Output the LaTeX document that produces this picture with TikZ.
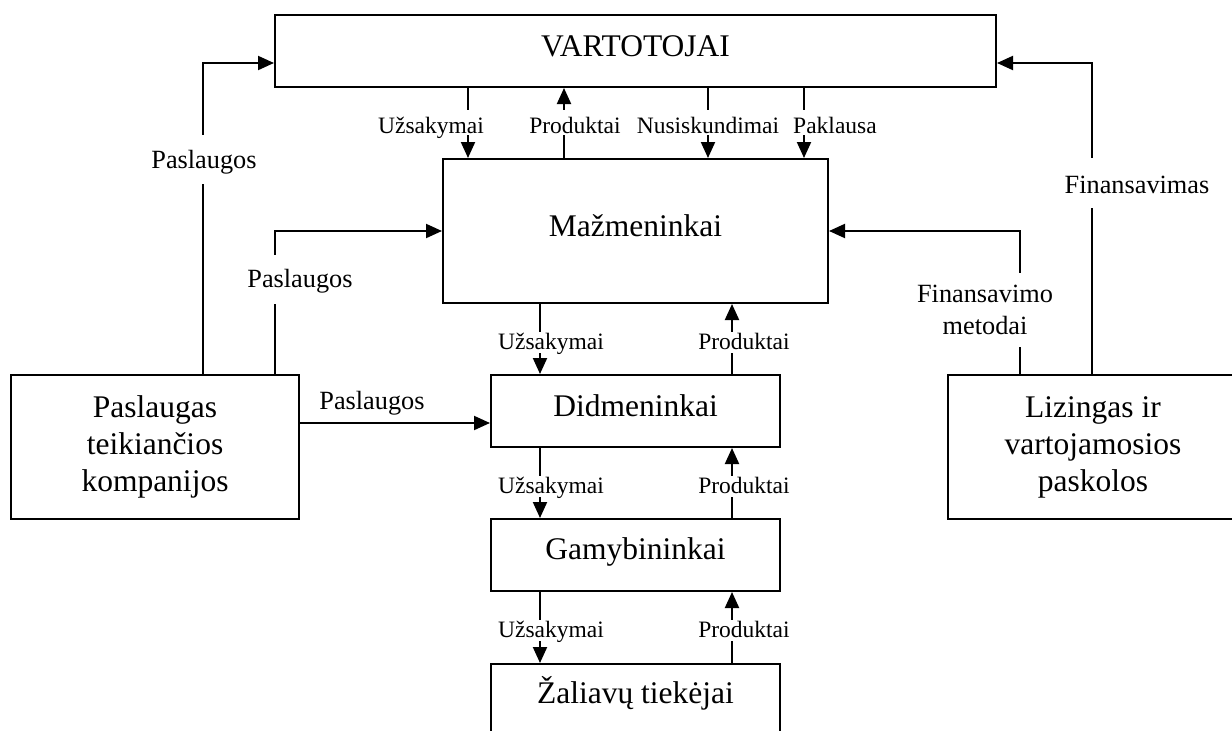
\documentclass[tikz,border=0pt]{standalone}
\usepackage{fontspec}
\setmainfont{Liberation Serif}
\usetikzlibrary{arrows.meta}
\newcommand\bigf{\fontsize{31.5pt}{37pt}\selectfont}
\newcommand\midf{\fontsize{26.3pt}{32pt}\selectfont}
\newcommand\smlf{\fontsize{23.5pt}{27pt}\selectfont}
\tikzset{
  box/.style={draw, line width=2pt, rectangle, inner sep=0pt, font=\bigf, align=center},
  arr/.style={line width=2pt, -{Triangle[length=16pt,width=14pt]}},
  toplab/.style={fill=white, inner sep=0pt, anchor=base, font=\smlf, text height=23pt, text depth=2pt},
  sublab/.style={fill=white, inner sep=0pt, anchor=base, font=\smlf, text height=17pt, text depth=4pt},
  biglab/.style={fill=white, inner sep=0pt, anchor=base, font=\midf},
}
\begin{document}
\begin{tikzpicture}[x=1pt,y=-1pt]
\useasboundingbox (0,0) rectangle (1232,731);
\fill[white] (0,0) rectangle (1232,731);
\clip (0,0) rectangle (1232,731);

% boxes
\node[box, minimum width=721pt, minimum height=72pt, text height=20pt, text depth=10pt] (vart) at (635.5,51) {VARTOTOJAI};
\node[box, minimum width=385pt, minimum height=144pt, text height=20pt, text depth=10pt] (maz) at (635.5,231) {Mažmeninkai};
\node[box, minimum width=289pt, minimum height=72pt, text height=20pt, text depth=10pt] (did) at (635.5,411) {Didmeninkai};
\node[box, minimum width=289pt, minimum height=72pt, text height=20pt, text depth=12pt] (gam) at (635.5,555) {Gamybininkai};
\node[box, minimum width=289pt, minimum height=72pt, text height=20pt, text depth=14pt] (zal) at (635.5,700) {Žaliavų tiekėjai};
\node[box, minimum width=288pt, minimum height=144pt] (pas) at (155,447) {Paslaugas\\teikiančios\\kompanijos};
\node[box, minimum width=290pt, minimum height=144pt] (liz) at (1093,447) {Lizingas ir\\vartojamosios\\paskolos};

% x positions of vertical connectors
\coordinate (a1) at (468,0);
\coordinate (a2) at (564,0);
\coordinate (a3) at (708,0);
\coordinate (a4) at (804,0);
\coordinate (b1) at (540,0);
\coordinate (b2) at (732,0);
\coordinate (p1) at (203,63);
\coordinate (p2) at (275,231);
\coordinate (p3) at (0,423);
\coordinate (f1) at (1092,63);
\coordinate (f2) at (1020,231);

% connectors
\draw[arr] (vart.south -| a1) -- (maz.north -| a1);
\draw[arr] (maz.north -| a2) -- (vart.south -| a2);
\draw[arr] (vart.south -| a3) -- (maz.north -| a3);
\draw[arr] (vart.south -| a4) -- (maz.north -| a4);

\draw[arr] (maz.south -| b1) -- (did.north -| b1);
\draw[arr] (did.north -| b2) -- (maz.south -| b2);
\draw[arr] (did.south -| b1) -- (gam.north -| b1);
\draw[arr] (gam.north -| b2) -- (did.south -| b2);
\draw[arr] (gam.south -| b1) -- (zal.north -| b1);
\draw[arr] (zal.north -| b2) -- (gam.south -| b2);

\draw[arr] (pas.north -| p1) |- (vart.west |- p1);
\draw[arr] (pas.north -| p2) |- (maz.west |- p2);
\draw[arr] (pas.east |- p3) -- (did.west |- p3);
\draw[arr] (liz.north -| f1) |- (vart.east |- f1);
\draw[arr] (liz.north -| f2) |- (maz.east |- f2);

% labels
\node[toplab] (l1) at (431,133) {Užsakymai};
\node[toplab] (l2) at (575,133) {Produktai};
\node[toplab] (l3) at (708,133) {Nusiskundimai};
\node[toplab] (l4) at (835,133) {Paklausa};

\node[sublab] (m1) at (551,349) {Užsakymai};
\node[sublab] (m2) at (744,349) {Produktai};
\node[sublab] (m3) at (551,493) {Užsakymai};
\node[sublab] (m4) at (744,493) {Produktai};
\node[sublab] (m5) at (551,637) {Užsakymai};
\node[sublab] (m6) at (744,637) {Produktai};

\node[biglab, text height=33pt, text depth=16pt] (lp1) at (204,168) {Paslaugos};
\node[biglab, text height=32pt, text depth=17pt] (lp2) at (300,287) {Paslaugos};
\node[biglab] (lp3) at (372,409) {Paslaugos};
\node[biglab, text height=35pt, text depth=15pt] (lf1) at (1137,193) {Finansavimas};
\node[fill=white, inner xsep=0pt, inner ysep=12pt, align=center, font=\midf] (lf2) at (985,310) {Finansavimo\\metodai};
\end{tikzpicture}
\end{document}
